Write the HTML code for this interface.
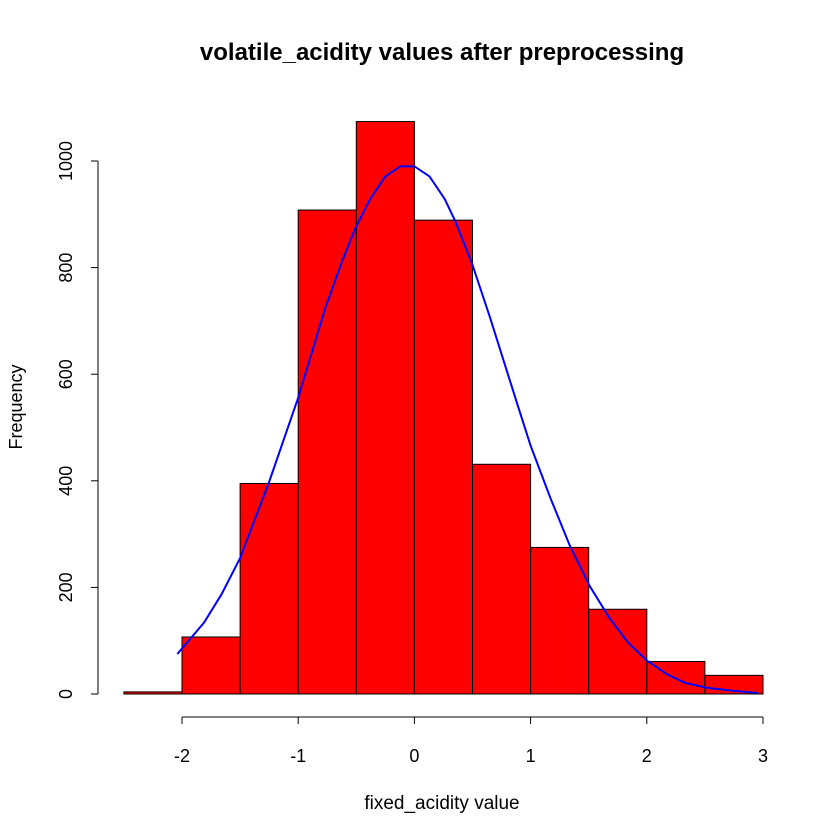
<!DOCTYPE html>
<html><head><meta charset="utf-8"><style>
html,body{margin:0;padding:0;background:#fff;}
svg{display:block;font-family:"Liberation Sans",Arial,sans-serif;}
</style></head><body>
<svg id="chart" width="840" height="840">
<text x="442" y="60" text-anchor="middle" font-size="24" font-weight="bold">volatile_acidity values after preprocessing</text>
<text x="442" y="809" text-anchor="middle" font-size="19">fixed_acidity value</text>
<text transform="translate(22,407) rotate(-90)" text-anchor="middle" font-size="18">Frequency</text>
<g id="bars"></g>
<g id="curve"></g>
<g id="axes"></g>
</svg>
<script>
const binEdges = [-2.5,-2,-1.5,-1,-0.5,0,0.5,1,1.5,2,2.5,3];
const counts = [4,107,395,908,1074,889,431,275,159,61,35];
const curveX = [-2.04,-1.81,-1.66,-1.5,-1.25,-1,-0.77,-0.62,-0.51,-0.38,-0.25,-0.12,0,0.13,0.26,0.35,0.5,0.65,0.78,0.89,1,1.17,1.34,1.51,1.68,1.84,2,2.18,2.33,2.51,2.74,2.96];
const curveY = [75,134,187,255,398,556,722,813,873,929,971,990,990,971,929,888,805,707,617,541,466,368,277,202,142,96,63,36,21,12,6,2];
const xTicks = [-2,-1,0,1,2,3];
const yTicks = [0,200,400,600,800,1000];
const NS = "http://www.w3.org/2000/svg";
function sx(v){return 414.4 + v*116.2;}
function sy(v){return 694 - v*0.533;}
function mk(tag, attrs, parent){const e=document.createElementNS(NS,tag);for(const k in attrs)e.setAttribute(k,attrs[k]);parent.appendChild(e);return e;}
const bars=document.getElementById('bars');
counts.forEach((c,i)=>{
  const x0=sx(binEdges[i]), x1=sx(binEdges[i+1]);
  const r=mk('rect',{x:x0,y:sy(c),width:x1-x0,height:sy(0)-sy(c),fill:'#ff0000',stroke:'#000','stroke-width':1},bars);
  
  
});
const curve=document.getElementById('curve');
const pl=mk('polyline',{points:curveX.map((x,i)=>sx(x)+','+sy(curveY[i])).join(' '),fill:'none',stroke:'#0000ff','stroke-width':2},curve);


const axes=document.getElementById('axes');
const xl=mk('line',{x1:sx(xTicks[0]),x2:sx(xTicks[xTicks.length-1]),y1:717,y2:717,stroke:'#000'},axes);


xTicks.forEach(t=>{
  mk('line',{x1:sx(t),x2:sx(t),y1:717,y2:724,stroke:'#000'},axes);
  const tx=mk('text',{x:sx(t),y:762,'text-anchor':'middle','font-size':18},axes);
  tx.textContent=t;
  
  
});
const yl=mk('line',{x1:98,x2:98,y1:sy(yTicks[0]),y2:sy(yTicks[yTicks.length-1]),stroke:'#000'},axes);


yTicks.forEach(t=>{
  mk('line',{x1:91,x2:98,y1:sy(t),y2:sy(t),stroke:'#000'},axes);
  const tx=mk('text',{transform:'translate(72,'+sy(t)+') rotate(-90)','text-anchor':'middle','font-size':18},axes);
  tx.textContent=t;
  
  
});
</script>
</body></html>
